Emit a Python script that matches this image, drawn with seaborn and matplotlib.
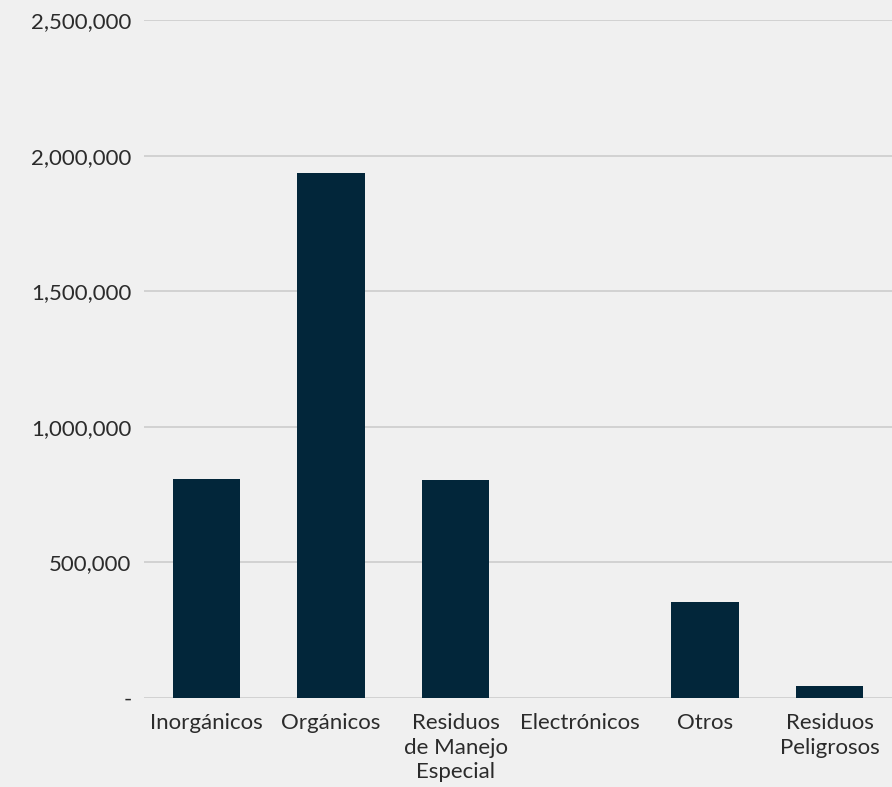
import matplotlib
matplotlib.use("Agg")
import matplotlib.pyplot as plt
import seaborn as sns
import pandas as pd
from matplotlib.ticker import FuncFormatter

# datos
categorias = ["Inorgánicos", "Orgánicos", "Residuos\nde Manejo\nEspecial",
              "Electrónicos", "Otros", "Residuos\nPeligrosos"]
toneladas = [807000, 1936000, 804000, 0, 354000, 44000]
yticks = [0, 500000, 1000000, 1500000, 2000000, 2500000]

df = pd.DataFrame({"categoria": categorias, "valor": toneladas})

sns.set_theme(style="white")
plt.rcParams['font.family'] = ['Lato', 'DejaVu Sans']

fig = plt.figure(figsize=(8.92, 7.87), dpi=100)
fig.patch.set_facecolor("#f0f0f0")
ax = fig.add_axes([0.1614, 0.113, 0.8386, 0.8616])
ax.set_facecolor("#f0f0f0")

sns.barplot(data=df, x="categoria", y="valor", color="#02263a",
            saturation=1, width=0.54, ax=ax, zorder=3, linewidth=0)

ax.set_ylim(0, 2500000)
ax.set_yticks(yticks)
ax.yaxis.set_major_formatter(FuncFormatter(lambda v, p: "-" if v == 0 else f"{int(v):,}"))
ax.grid(axis="y", color="#cccccc", linewidth=1.2, zorder=0)
ax.set_axisbelow(True)
for s in ax.spines.values():
    s.set_visible(False)
ax.tick_params(axis="both", length=0, labelsize=16, labelcolor="#2b2b2b")
ax.tick_params(axis="y", pad=9)
ax.tick_params(axis="x", pad=11)
for lbl in ax.get_xticklabels():
    lbl.set_linespacing(1.27)
ax.set_xlabel("")
ax.set_ylabel("")

fig.savefig("out.png", dpi=100, facecolor=fig.get_facecolor())
